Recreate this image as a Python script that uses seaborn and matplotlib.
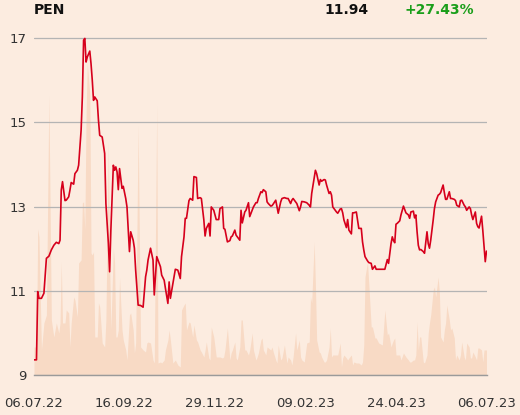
import matplotlib
matplotlib.use("Agg")
import pandas as pd
import matplotlib.pyplot as plt
import seaborn as sns

# session position (0 = 06.07.22, 365 = 06.07.23), closing price, volume
days = [0, 2, 3, 4, 6, 8, 10, 12, 14, 16, 18, 20, 21, 22, 23, 25, 26, 28, 29, 30,
        32, 33, 35, 36, 38, 39, 40, 41, 42, 43, 45, 46, 47, 48, 49, 51, 52, 53, 55, 57,
        58, 60, 61, 62, 64, 65, 66, 67, 68, 69, 71, 72, 74,
        75, 77, 78, 80, 81, 82, 84, 86, 88, 90, 91, 92, 94, 96, 97, 99, 100, 102, 103,
        105, 106, 108, 109, 110, 112, 114, 116, 118, 119, 121, 122, 123, 125, 126, 128,
        129, 131, 132, 134, 135, 137, 138, 139, 141, 142,
        143, 145, 147, 149, 150, 152, 153, 154, 156, 158, 159, 160, 162, 163, 164, 166,
        167, 168, 170, 171, 173, 174, 176, 177, 179, 180, 181, 183, 184, 185, 187, 188,
        189, 191, 192, 193, 195, 196, 197, 199, 200, 202, 204, 205, 207, 208, 209, 211,
        212, 214, 215, 216, 218,
        220, 222, 223, 224, 226, 227, 228, 230, 231, 232, 234, 235, 236, 238, 239, 240,
        241, 242, 244, 245, 247, 248, 249, 250, 252, 253, 254, 256, 257, 258, 260, 261,
        262, 264, 265, 266, 267, 269, 270, 272, 273, 275, 276, 278, 281, 283, 285, 286,
        288,
        289, 290, 291, 292, 293, 295, 296, 298, 299, 300, 302, 303, 304, 306, 307, 308,
        309, 310, 311, 312, 314, 315, 317, 318, 319, 320, 322, 323, 324, 326, 327, 328,
        330, 331, 332, 333, 335, 336, 337, 339, 340, 341, 343, 344, 345, 347, 348, 349,
        351, 352, 353, 354, 356, 357, 358, 359, 361, 362, 363, 364, 365]

price = [9.36, 9.36, 10.98, 10.82, 10.82, 10.94, 11.77, 11.82, 11.97, 12.08, 12.15, 12.12,
         12.20, 13.39, 13.59, 13.14, 13.15, 13.23, 13.39, 13.57, 13.53, 13.78, 13.86, 13.98,
         14.81, 15.60, 16.95, 16.99, 16.43, 16.55, 16.69, 16.39, 16.00, 15.52, 15.60, 15.51,
         15.05, 14.69, 14.65, 14.26, 13.07, 12.12, 11.45, 12.44, 13.98, 13.86, 13.94, 13.82,
         13.40, 13.90, 13.43, 13.48, 13.19,
         12.99, 11.93, 12.40, 12.20, 12.01, 11.49, 10.66, 10.65, 10.61, 11.33, 11.49, 11.73,
         12.01, 11.73, 10.90, 11.81, 11.73, 11.57, 11.37, 11.25, 11.06, 10.70, 11.21, 10.82,
         11.17, 11.51, 11.49, 11.29, 11.81, 12.28, 12.72, 12.72, 13.14, 13.19, 13.15, 13.71,
         13.69, 13.19, 13.21, 13.19, 12.68, 12.30, 12.48, 12.60, 12.30,
         12.99, 12.91, 12.69, 12.69, 12.95, 12.99, 12.48, 12.46, 12.16, 12.19, 12.28, 12.30,
         12.44, 12.32, 12.28, 12.20, 12.91, 12.61, 12.87, 12.91, 13.09, 12.76, 12.91, 12.99,
         13.09, 13.09, 13.19, 13.35, 13.33, 13.40, 13.35, 13.11, 13.07, 13.01, 13.02, 13.06,
         13.15, 12.99, 12.84, 13.11, 13.19, 13.21, 13.19, 13.19, 13.07, 13.15, 13.19, 13.11,
         13.07, 12.90, 12.99, 13.12, 13.11,
         13.09, 13.03, 12.99, 13.31, 13.67, 13.86, 13.78, 13.51, 13.64, 13.60, 13.64, 13.63,
         13.51, 13.31, 13.35, 13.27, 12.99, 12.95, 12.87, 12.84, 12.94, 12.95, 12.85, 12.68,
         12.50, 12.69, 12.44, 12.35, 12.85, 12.85, 12.87, 12.68, 12.48, 12.48, 12.16, 11.97,
         11.81, 11.71, 11.67, 11.65, 11.51, 11.59, 11.51, 11.51, 11.51, 11.51, 11.74, 11.65,
         12.12,
         12.28, 12.19, 12.14, 12.58, 12.60, 12.66, 12.80, 13.01, 12.93, 12.85, 12.80, 12.72,
         12.87, 12.89, 12.73, 12.80, 12.40, 12.08, 11.97, 11.98, 11.93, 11.89, 12.40, 12.12,
         12.01, 12.20, 12.68, 12.95, 13.11, 13.27, 13.29, 13.33, 13.51, 13.33, 13.17, 13.17,
         13.35, 13.19, 13.19, 13.17, 13.14, 13.03, 12.99, 13.14, 13.15, 13.03, 12.99, 12.91,
         12.99, 12.95, 12.80, 12.69, 12.87, 12.60, 12.52, 12.49, 12.77, 12.44, 12.05, 11.69,
         11.94]

volume = [28, 28, 146, 138, 25, 52, 60, 280, 55, 38, 52, 42, 52, 113, 52, 52, 65, 62, 28, 52,
          78, 75, 58, 112, 115, 172, 173, 145, 260, 312, 280, 122, 120, 123, 38, 38, 72, 68,
          32, 28, 55, 233, 112, 45, 127, 112, 38, 38, 45, 97, 45, 35, 25,
          15, 60, 62, 45, 22, 32, 250, 28, 25, 23, 32, 33, 32, 15, 12, 270, 12, 13, 12, 15,
          25, 35, 45, 35, 12, 15, 10, 8, 65, 70, 72, 45, 53, 52, 38, 50, 35, 33, 25, 23, 18,
          25, 33, 17, 15,
          48, 38, 18, 18, 18, 17, 18, 25, 47, 15, 22, 25, 33, 17, 15, 28, 55, 55, 25, 25, 20,
          25, 42, 25, 15, 18, 22, 35, 37, 25, 20, 28, 27, 25, 28, 23, 15, 12, 30, 15, 17, 30,
          12, 18, 15, 10, 18, 42, 25, 35, 18, 15, 13,
          32, 33, 78, 72, 133, 90, 35, 23, 22, 18, 13, 13, 15, 28, 47, 18, 20, 20, 20, 20, 32,
          8, 17, 20, 17, 15, 17, 20, 10, 13, 12, 12, 12, 10, 13, 30, 98, 113, 92, 48, 48, 37,
          37, 32, 30, 65, 40, 42, 28,
          32, 35, 37, 20, 20, 20, 15, 22, 20, 18, 15, 13, 13, 15, 15, 20, 53, 25, 38, 38, 13,
          12, 20, 42, 52, 60, 85, 88, 78, 98, 82, 38, 33, 45, 52, 70, 55, 45, 47, 37, 15, 20,
          15, 20, 33, 18, 15, 32, 28, 17, 17, 23, 18, 15, 27, 27, 25, 13, 25, 25, 25]

tick_pos = [0, 73, 146, 219, 292, 365]
tick_labels = ["06.07.22", "16.09.22", "29.11.22", "09.02.23", "24.04.23", "06.07.23"]
y_ticks = [9, 11, 13, 15, 17]

df = pd.DataFrame({"day": days, "price": price, "volume": volume})

bg = "#fcece0"
sns.set_style("white")
plt.rcParams["font.family"] = ["DejaVu Sans"]

fig = plt.figure(figsize=(5.2, 4.15), dpi=100, facecolor=bg)
ax = fig.add_axes([34 / 520, 40 / 415, 452.5 / 520, 341.2 / 415])
ax_vol = ax.twinx()
ax.set_zorder(ax_vol.get_zorder() + 1)
ax.patch.set_visible(False)
ax_vol.patch.set_visible(False)

# volume area behind the price line
ax_vol.fill_between(df["day"], 0, df["volume"], color="#f8dac5", lw=0)
ax_vol.set_ylim(0, 341)
ax_vol.set_yticks([])
for s in ax_vol.spines.values():
    s.set_visible(False)

sns.lineplot(data=df, x="day", y="price", ax=ax, color="#d6001c", lw=1.2)

ax.set_xlim(0, 365)
ax.set_ylim(9, 17.1)
ax.set_yticks(y_ticks)
ax.set_yticklabels([str(v) for v in y_ticks])
ax.set_xticks(tick_pos)
ax.set_xticklabels(tick_labels)
ax.set_xlabel("")
ax.set_ylabel("")
ax.yaxis.grid(True, color="#b4b4b4", lw=0.9)
ax.xaxis.grid(False)
for side in ["left", "right", "top"]:
    ax.spines[side].set_visible(False)
ax.spines["bottom"].set_color("#9a9a9a")
ax.spines["bottom"].set_linewidth(1.0)
ax.tick_params(axis="y", length=0, pad=5.5, labelsize=9.5, labelcolor="#333333")
ax.tick_params(axis="x", length=10, width=0.9, color="#777777", pad=6,
               labelsize=9.5, labelcolor="#333333")

fig.text(34 / 520, 1 - 10 / 415, "PEN", fontsize=10, fontweight="bold",
         color="#111111", ha="left", va="center")
fig.text(369 / 520, 1 - 10 / 415, "11.94", fontsize=10, fontweight="bold",
         color="#111111", ha="right", va="center")
fig.text(474 / 520, 1 - 10 / 415, "+27.43%", fontsize=10, fontweight="bold",
         color="#1a9e1a", ha="right", va="center")

fig.savefig("out.png", dpi=100, facecolor=bg)
